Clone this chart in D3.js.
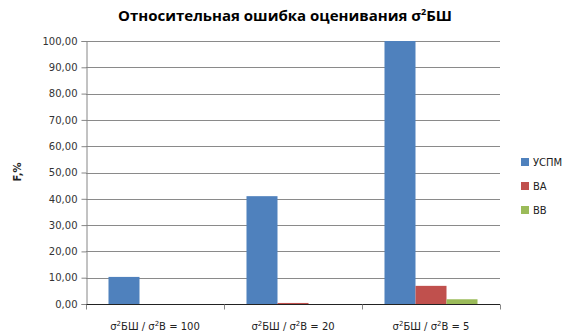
<!DOCTYPE html>
<html><head><meta charset="utf-8">
<script src="https://cdn.jsdelivr.net/npm/d3@7"></script>
<style>body{margin:0;background:#fff}svg{display:block}</style>
</head><body>
<svg id="c" width="570" height="334"></svg>
<script>
// Relative error of σ²БШ estimation by method and variance ratio
const categories = ["100", "20", "5"];
const seriesNames = ["УСПМ", "ВА", "ВВ"];
const uspm = [10.3, 41.0, 100.0];
const va = [0.0, 0.4, 6.9];
const vb = [0.0, 0.0, 1.8];
const yTicks = [0, 10, 20, 30, 40, 50, 60, 70, 80, 90, 100];
const colors = ["#4F81BD", "#C0504D", "#9BBB59"];

const values = [uspm, va, vb];
const svg = d3.select("#c");
const m = {left: 86, right: 500, top: 41, bottom: 304};

const x = d3.scaleBand().domain(categories).range([m.left, m.right]).paddingInner(0).paddingOuter(0);
const groupPad = x.bandwidth() * 0.163;
const xi = d3.scaleBand().domain(seriesNames).range([groupPad, x.bandwidth() - groupPad]).padding(0);
const y = d3.scaleLinear().domain([0, 100]).range([m.bottom, m.top]);

// grid
svg.append("g").selectAll("line").data(yTicks.slice(1)).join("line")
  .attr("x1", m.left).attr("x2", m.right)
  .attr("y1", d => Math.round(y(d)) + 0.5).attr("y2", d => Math.round(y(d)) + 0.5)
  .attr("stroke", "#8a8a8a").attr("stroke-width", 1);

// bars
const rows = [];
categories.forEach((c, i) => seriesNames.forEach((s, j) => rows.push({c, s, v: values[j][i], col: colors[j]})));
svg.append("g").selectAll("rect").data(rows).join("rect")
  .attr("x", d => x(d.c) + xi(d.s))
  .attr("width", xi.bandwidth())
  .attr("y", d => y(d.v))
  .attr("height", d => y(0) - y(d.v))
  .attr("fill", d => d.col);

// y axis
const yAxis = d3.axisLeft(y).tickValues(yTicks).tickSize(5).tickPadding(4)
  .tickFormat(d => d3.format(".2f")(d).replace(".", ","));
const gy = svg.append("g").attr("transform", `translate(${m.left + 0.5},0)`).call(yAxis);
gy.select(".domain").attr("stroke", "#868686");
gy.selectAll(".tick line").attr("stroke", "#868686");
gy.selectAll(".tick text").attr("font-family", "DejaVu Sans, sans-serif").attr("font-size", 10).attr("fill", "#333");

// x axis
const gx = svg.append("g").attr("transform", `translate(0,${m.bottom + 0.5})`);
gx.append("line").attr("x1", m.left).attr("x2", m.right).attr("stroke", "#222");
const bounds = categories.map(c => x(c)).concat([m.right]);
gx.selectAll("line.t").data(bounds).join("line").attr("class", "t")
  .attr("x1", d => Math.round(d) + 0.5).attr("x2", d => Math.round(d) + 0.5)
  .attr("y1", 0).attr("y2", 5).attr("stroke", "#868686");
const lab = gx.selectAll("text").data(categories).join("text")
  .attr("x", d => x(d) + x.bandwidth() / 2).attr("y", 25)
  .attr("text-anchor", "middle")
  .attr("font-family", "DejaVu Sans, sans-serif").attr("font-size", 10).attr("fill", "#222");
lab.each(function(d) {
  const t = d3.select(this);
  t.append("tspan").text("σ");
  t.append("tspan").attr("dy", -4).attr("font-size", 7).text("2");
  t.append("tspan").attr("dy", 4).text("БШ / σ");
  t.append("tspan").attr("dy", -4).attr("font-size", 7).text("2");
  t.append("tspan").attr("dy", 4).text("В = " + d);
});

// title
const title = svg.append("text").attr("x", 285).attr("y", 21).attr("text-anchor", "middle")
  .attr("font-family", "Open Sans, sans-serif").attr("font-weight", "bold").attr("font-size", 15).attr("fill", "#000");
title.append("tspan").text("Относительная ошибка оценивания σ");
title.append("tspan").attr("dy", -6).attr("font-size", 9).text("2");
title.append("tspan").attr("dy", 6).text("БШ");

// y label
svg.append("text").attr("transform", "translate(21,172) rotate(-90)").attr("text-anchor", "middle")
  .attr("font-family", "DejaVu Sans, sans-serif").attr("font-weight", "bold").attr("font-size", 10).attr("fill", "#222")
  .text("F,%");

// legend
const lg = svg.append("g").selectAll("g").data(seriesNames).join("g")
  .attr("transform", (d, i) => `translate(521,${158 + i * 24})`);
lg.append("rect").attr("width", 8).attr("height", 8).attr("fill", (d, i) => colors[i]);
lg.append("text").attr("x", 12).attr("y", 8).attr("font-family", "DejaVu Sans, sans-serif")
  .attr("font-size", 10).attr("fill", "#222").text(d => d);
</script>
</body></html>
